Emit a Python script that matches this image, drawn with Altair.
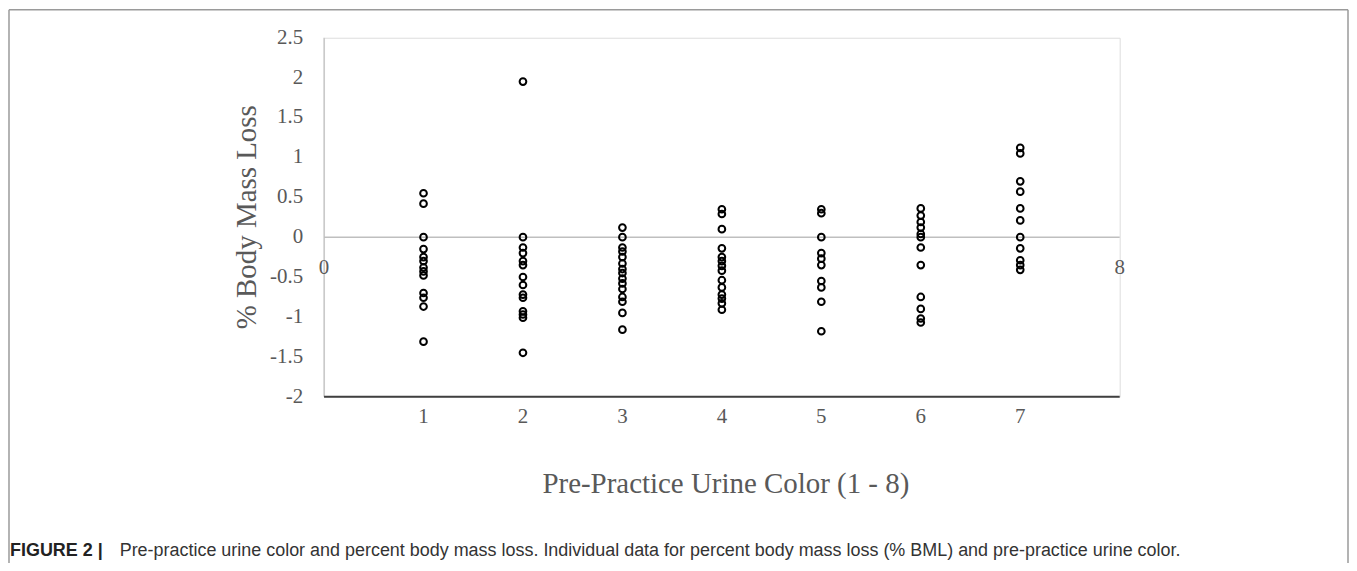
import altair as alt
import pandas as pd

# Data
urine_colors = [1, 2, 3, 4, 5, 6, 7]
bml_c1 = [0.55, 0.42, 0.0, -0.15, -0.25, -0.30, -0.38, -0.43, -0.48, -0.70, -0.76, -0.87, -1.31]
bml_c2 = [1.95, 0.0, -0.13, -0.20, -0.30, -0.35, -0.50, -0.60, -0.72, -0.76, -0.93, -0.97, -1.01, -1.45]
bml_c3 = [0.12, 0.0, -0.13, -0.18, -0.25, -0.33, -0.40, -0.45, -0.52, -0.58, -0.65, -0.75, -0.81, -0.95, -1.16]
bml_c4 = [0.35, 0.29, 0.10, -0.14, -0.25, -0.30, -0.36, -0.42, -0.54, -0.63, -0.72, -0.77, -0.83, -0.91]
bml_c5 = [0.35, 0.30, 0.0, -0.20, -0.27, -0.35, -0.55, -0.63, -0.81, -1.18]
bml_c6 = [0.36, 0.27, 0.19, 0.12, 0.04, 0.0, -0.13, -0.35, -0.75, -0.90, -1.02, -1.07]
bml_c7 = [1.12, 1.05, 0.70, 0.57, 0.36, 0.21, 0.0, -0.14, -0.29, -0.35, -0.41]
y_ticks = [-2, -1.5, -1, -0.5, 0, 0.5, 1, 1.5, 2, 2.5]
y_tick_labels = ["-2", "-1.5", "-1", "-0.5", "0", "0.5", "1", "1.5", "2", "2.5"]
x_tick_labels = ["1", "2", "3", "4", "5", "6", "7"]
x_title = "Pre-Practice Urine Color (1 - 8)"
y_title = "% Body Mass Loss"
caption_bold = "FIGURE 2 |"
caption_text = ("Pre-practice urine color and percent body mass loss. Individual data for percent "
                "body mass loss (% BML) and pre-practice urine color.")

columns = [bml_c1, bml_c2, bml_c3, bml_c4, bml_c5, bml_c6, bml_c7]
rows = []
for c, vals in zip(urine_colors, columns):
    for v in vals:
        rows.append({"color": c, "bml": v})
df = pd.DataFrame(rows)

SERIF = "Liberation Serif"
GRAY = "#595959"

xscale = alt.Scale(domain=[0, 8], nice=False, zero=False)
yscale = alt.Scale(domain=[-2, 2.5], nice=False, zero=False)

points = alt.Chart(df).mark_point(
    shape="circle", filled=False, stroke="black", strokeWidth=2, size=45, opacity=1
).encode(
    x=alt.X("color:Q", scale=xscale, axis=None),
    y=alt.Y("bml:Q", scale=yscale, axis=None),
)

# y axis labels
ytick_df = pd.DataFrame({"v": y_ticks, "t": y_tick_labels})
ylabels = alt.Chart(ytick_df).mark_text(
    font=SERIF, fontSize=21, color=GRAY, align="right", baseline="middle"
).encode(x=alt.value(-21), y=alt.Y("v:Q", scale=yscale, axis=None), text="t:N")

# x axis labels
xtick_df = pd.DataFrame({"v": urine_colors, "t": x_tick_labels})
xlabels = alt.Chart(xtick_df).mark_text(
    font=SERIF, fontSize=21, color=GRAY, align="center", baseline="middle"
).encode(x=alt.X("v:Q", scale=xscale, axis=None), y=alt.value(380), text="t:N")

# axis lines
axes_df = pd.DataFrame({"x0": [0], "x1": [8], "y0": [-2], "y1": [2.5], "z": [0]})
y_domain = alt.Chart(axes_df).mark_rule(color="#bfbfbf", strokeWidth=1.2).encode(
    x=alt.X("z:Q", scale=xscale, axis=None),
    y=alt.Y("y0:Q", scale=yscale, axis=None), y2="y1:Q")
zero_line = alt.Chart(axes_df).mark_rule(color="#bfbfbf", strokeWidth=1.5).encode(
    x=alt.X("x0:Q", scale=xscale, axis=None), x2="x1:Q",
    y=alt.Y("z:Q", scale=yscale, axis=None))
x_domain = alt.Chart(axes_df).mark_rule(color="#404040", strokeWidth=2).encode(
    x=alt.X("x0:Q", scale=xscale, axis=None), x2="x1:Q",
    y=alt.Y("y0:Q", scale=yscale, axis=None))

end_df = pd.DataFrame({"x": [0, 8], "y": [-0.39, -0.39], "t": ["0", "8"]})
end_labels = alt.Chart(end_df).mark_text(
    font=SERIF, fontSize=21, color=GRAY, align="center", baseline="middle"
).encode(x=alt.X("x:Q", scale=xscale, axis=None),
         y=alt.Y("y:Q", scale=yscale, axis=None), text="t:N")

dummy = pd.DataFrame({"a": [0]})

ytitle = alt.Chart(dummy).mark_text(
    text=y_title, font=SERIF, fontSize=29, color=GRAY, angle=270,
    align="center", baseline="middle"
).encode(x=alt.value(-77), y=alt.value(180))

xtitle = alt.Chart(dummy).mark_text(
    text=x_title, font=SERIF, fontSize=29, color=GRAY,
    align="center", baseline="middle"
).encode(x=alt.value(403), y=alt.value(448))

cap_bold = alt.Chart(dummy).mark_text(
    text=caption_bold, font="Liberation Sans", fontSize=18, fontWeight="bold",
    color="#222222", align="left", baseline="middle"
).encode(x=alt.value(-315), y=alt.value(515))

cap_rest = alt.Chart(dummy).mark_text(
    text=caption_text, font="Liberation Sans", fontSize=18,
    color="#333333", align="left", baseline="middle"
).encode(x=alt.value(-205), y=alt.value(515))

frame_left = alt.Chart(dummy).mark_rule(color="#9a9a9a", strokeWidth=1.5).encode(
    x=alt.value(-316), y=alt.value(-28), y2=alt.value(600))
frame_right = alt.Chart(dummy).mark_rule(color="#9a9a9a", strokeWidth=1.5).encode(
    x=alt.value(1027), y=alt.value(-28), y2=alt.value(600))
frame_top = alt.Chart(dummy).mark_rule(color="#9a9a9a", strokeWidth=1.5).encode(
    x=alt.value(-316), x2=alt.value(1027), y=alt.value(-28))

chart = alt.layer(
    frame_left, frame_right, frame_top,
    y_domain, zero_line, x_domain, points, ylabels, xlabels, end_labels,
    ytitle, xtitle, cap_bold, cap_rest
).properties(
    width=798, height=360,
    autosize=alt.AutoSizeParams(type="none"),
    padding={"left": 317, "top": 29, "right": 230, "bottom": 166},
).configure_view(
    stroke="#d9d9d9", strokeWidth=1
).configure(background="white")

chart.save("out.html", embed_options={"renderer": "svg", "actions": False})
